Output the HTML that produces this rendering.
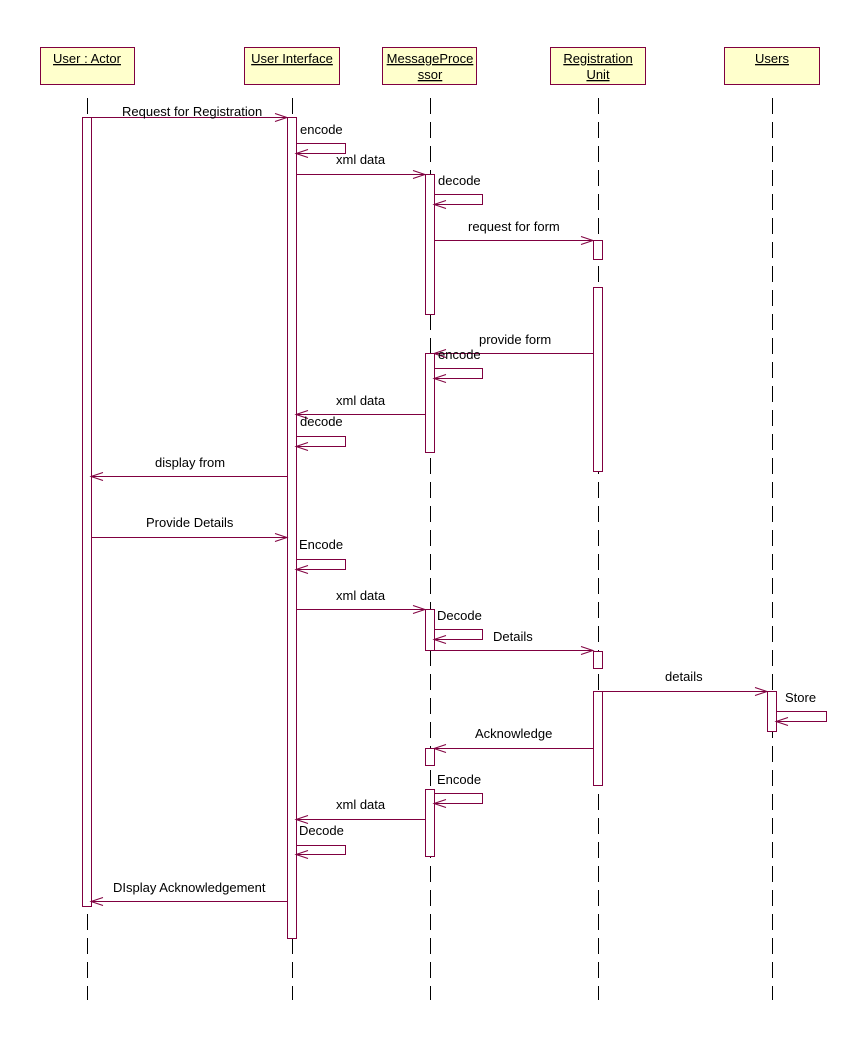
<!DOCTYPE html>
<html><head><meta charset="utf-8"><style>
html,body{margin:0;padding:0;background:#fff;}
svg{display:block;}
text{font-family:"Liberation Sans",Arial,sans-serif;font-size:13px;fill:#000;}
</style></head><body>
<svg width="867" height="1047" viewBox="0 0 867 1047" xmlns="http://www.w3.org/2000/svg">
<g fill="#ffffcc" stroke="#800040" stroke-width="1">
<rect x="40.5" y="47.5" width="94" height="37"/>
<rect x="244.5" y="47.5" width="95" height="37"/>
<rect x="382.5" y="47.5" width="94" height="37"/>
<rect x="550.5" y="47.5" width="95" height="37"/>
<rect x="724.5" y="47.5" width="95" height="37"/>
</g>
<g text-anchor="middle">
<text x="87" y="63" text-decoration="underline">User : Actor</text>
<text x="292" y="63" text-decoration="underline">User Interface</text>
<text x="430" y="63" text-decoration="underline">MessageProce</text>
<text x="430" y="79" text-decoration="underline">ssor</text>
<text x="598" y="63" text-decoration="underline">Registration </text>
<text x="598" y="79" text-decoration="underline">Unit</text>
<text x="772" y="63" text-decoration="underline">Users</text>
</g>
<g stroke="#000" stroke-width="1" stroke-dasharray="16,8">
<line x1="87.5" y1="98" x2="87.5" y2="1000"/>
<line x1="292.5" y1="98" x2="292.5" y2="1000"/>
<line x1="430.5" y1="98" x2="430.5" y2="1000"/>
<line x1="598.5" y1="98" x2="598.5" y2="1000"/>
<line x1="772.5" y1="98" x2="772.5" y2="1000"/>
</g>
<g fill="#fff" stroke="#800040" stroke-width="1">
<rect x="82.5" y="117.5" width="9" height="789"/>
<rect x="287.5" y="117.5" width="9" height="821"/>
<rect x="425.5" y="174.5" width="9" height="140"/>
<rect x="425.5" y="353.5" width="9" height="99"/>
<rect x="425.5" y="609.5" width="9" height="41"/>
<rect x="425.5" y="748.5" width="9" height="17"/>
<rect x="425.5" y="789.5" width="9" height="67"/>
<rect x="593.5" y="240.5" width="9" height="19"/>
<rect x="593.5" y="287.5" width="9" height="184"/>
<rect x="593.5" y="651.5" width="9" height="17"/>
<rect x="593.5" y="691.5" width="9" height="94"/>
<rect x="767.5" y="691.5" width="9" height="40"/>
</g>
<g stroke="#800040" stroke-width="1" fill="none">
<path d="M91 117.5H287M275 113.5L287 117.5L275 121.5"/>
<path d="M296 174.5H425M413 170.5L425 174.5L413 178.5"/>
<path d="M434 240.5H593M581 236.5L593 240.5L581 244.5"/>
<path d="M91 537.5H287M275 533.5L287 537.5L275 541.5"/>
<path d="M296 609.5H425M413 605.5L425 609.5L413 613.5"/>
<path d="M434 650.5H593M581 646.5L593 650.5L581 654.5"/>
<path d="M602 691.5H767M755 687.5L767 691.5L755 695.5"/>
<path d="M593 353.5H434M446 349.5L434 353.5L446 357.5"/>
<path d="M425 414.5H296M308 410.5L296 414.5L308 418.5"/>
<path d="M287 476.5H91M103 472.5L91 476.5L103 480.5"/>
<path d="M593 748.5H434M446 744.5L434 748.5L446 752.5"/>
<path d="M425 819.5H296M308 815.5L296 819.5L308 823.5"/>
<path d="M287 901.5H91M103 897.5L91 901.5L103 905.5"/>
<path d="M296 143.5H345.5V153.5H296M308 149.5L296 153.5L308 157.5"/>
<path d="M434 194.5H482.5V204.5H434M446 200.5L434 204.5L446 208.5"/>
<path d="M434 368.5H482.5V378.5H434M446 374.5L434 378.5L446 382.5"/>
<path d="M296 436.5H345.5V446.5H296M308 442.5L296 446.5L308 450.5"/>
<path d="M296 559.5H345.5V569.5H296M308 565.5L296 569.5L308 573.5"/>
<path d="M434 629.5H482.5V639.5H434M446 635.5L434 639.5L446 643.5"/>
<path d="M776 711.5H826.5V721.5H776M788 717.5L776 721.5L788 725.5"/>
<path d="M434 793.5H482.5V803.5H434M446 799.5L434 803.5L446 807.5"/>
<path d="M296 845.5H345.5V854.5H296M308 850.5L296 854.5L308 858.5"/>
</g>
<g>
<text x="122" y="116">Request for Registration</text>
<text x="300" y="134">encode</text>
<text x="336" y="164">xml data</text>
<text x="438" y="185">decode</text>
<text x="468" y="231">request for form</text>
<text x="479" y="344">provide form</text>
<text x="438" y="359">encode</text>
<text x="336" y="405">xml data</text>
<text x="300" y="426">decode</text>
<text x="155" y="467">display from</text>
<text x="146" y="527">Provide Details</text>
<text x="299" y="549">Encode</text>
<text x="336" y="600">xml data</text>
<text x="437" y="620">Decode</text>
<text x="493" y="641">Details</text>
<text x="665" y="681">details</text>
<text x="785" y="702">Store</text>
<text x="475" y="738">Acknowledge</text>
<text x="437" y="784">Encode</text>
<text x="336" y="809">xml data</text>
<text x="299" y="835">Decode</text>
<text x="113" y="892">DIsplay Acknowledgement</text>
</g>
</svg>
</body></html>
